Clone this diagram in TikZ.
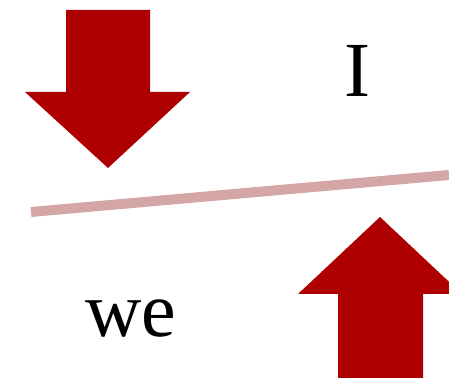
\documentclass[tikz,border=0pt]{standalone}
\usepackage{fontspec}
\setmainfont{Liberation Serif}
\definecolor{arrowred}{RGB}{174,0,0}
\definecolor{linepink}{RGB}{212,166,166}
\begin{document}
\begin{tikzpicture}[x=1pt,y=1pt,
  bigarrow/.style={fill=arrowred,draw=none},
  bigtext/.style={inner sep=0pt,anchor=base,font=\fontsize{78}{78}\selectfont},
  divider/.style={draw=linepink,line width=10pt,line cap=butt}]
\useasboundingbox (0,0) rectangle (449,377);
\clip (0,0) rectangle (449,377);
% down arrow (top-left)
\fill[bigarrow] (66,367) -- (150,367) -- (150,285) -- (190,285) -- (108,209) -- (25,285) -- (66,285) -- cycle;
% up arrow (bottom-right)
\fill[bigarrow] (338,-2) -- (423,-2) -- (423,83) -- (462,83) -- (380,160) -- (298,83) -- (338,83) -- cycle;
% divider line
\coordinate (la) at (31,165);
\coordinate (lb) at (449,202);
\draw[divider] (la) -- (lb);
% texts
\node[bigtext] (i) at (357,280) {I};
\node[bigtext] (we) at (131,40) {we};
\end{tikzpicture}
\end{document}
